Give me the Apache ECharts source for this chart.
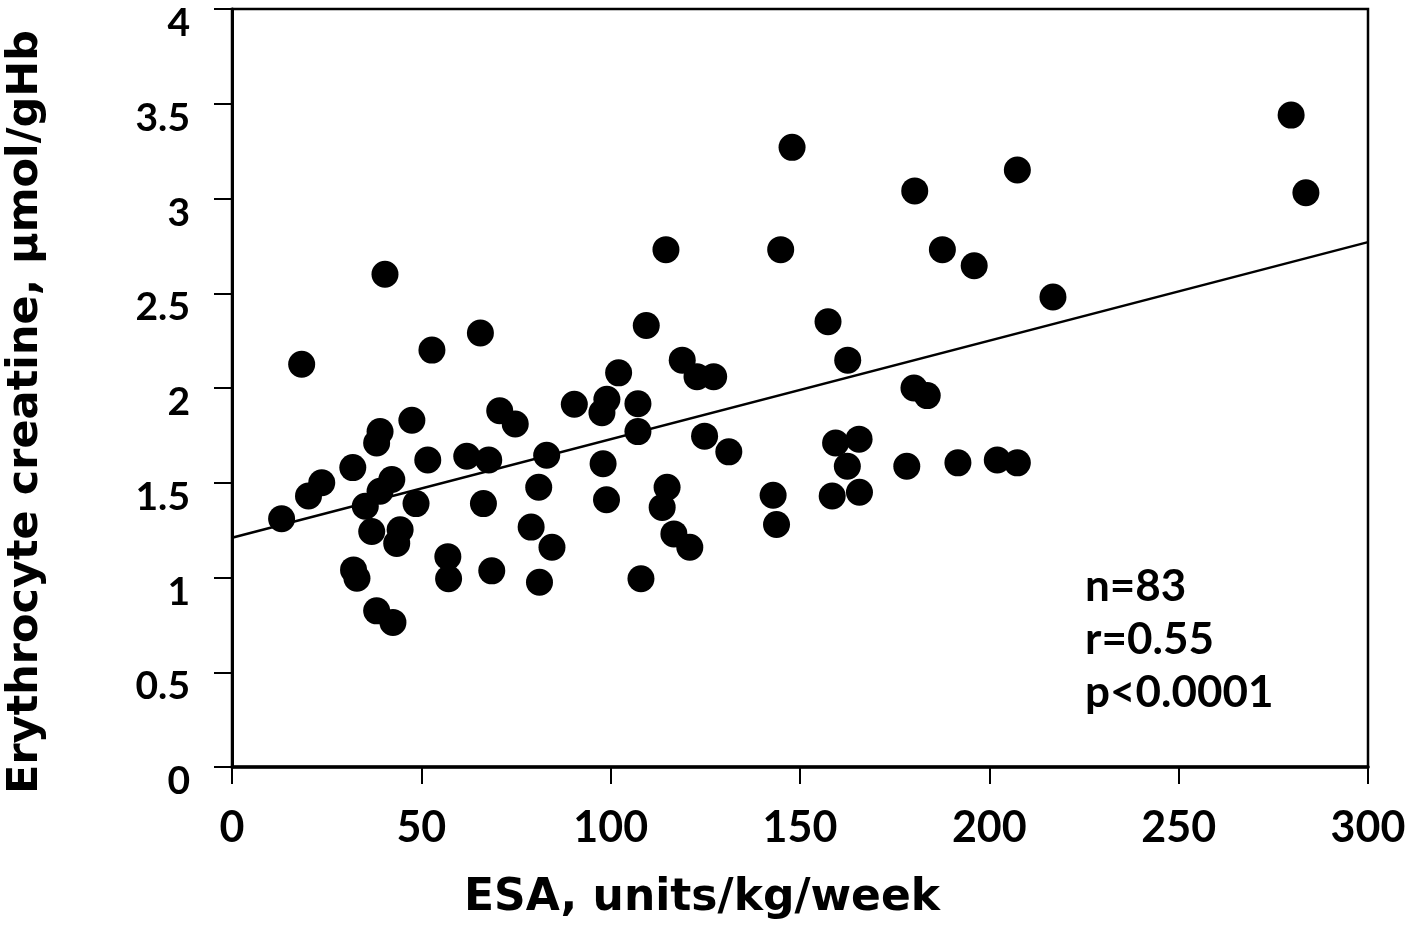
<!DOCTYPE html>
<html>
<head>
<meta charset="utf-8">
<script src="https://cdn.jsdelivr.net/npm/echarts@6/dist/echarts.min.js"></script>
<style>
html,body{margin:0;padding:0;background:#fff;}
#chart{width:1416px;height:934px;}
</style>
</head>
<body>
<div id="chart"></div>
<script>
// ESA dose (units/kg/week)
var esa = [13.1, 18.4, 20.2, 23.7, 31.9, 32.1, 33.0, 35.2, 36.9, 38.2,
           39.1, 39.1, 38.2, 40.4, 42.2, 42.5, 43.5, 44.4, 47.5, 48.6,
           51.7, 52.8, 57.0, 57.2, 62.0, 65.6, 66.4, 67.8, 68.6, 70.7,
           74.8, 79.0, 81.0, 81.2, 83.1, 84.5, 90.4, 97.7, 99.0, 98.0,
           98.9, 102.1, 107.2, 107.2, 108.0, 109.4, 113.6, 114.9, 114.6, 116.7,
           118.9, 120.9, 122.8, 124.8, 127.2, 131.2, 142.9, 143.8, 144.9, 147.9,
           157.4, 158.5, 159.4, 162.5, 162.6, 165.6, 165.7, 178.2, 180.1, 180.3,
           183.6, 187.6, 191.7, 196.0, 202.1, 207.4, 207.4, 216.8, 279.7, 283.6];
// Erythrocyte creatine (µmol/gHb)
var creatine = [1.31, 2.125, 1.43, 1.50, 1.58, 1.04, 0.996, 1.376, 1.243, 1.71,
                1.77, 1.455, 0.824, 2.60, 1.517, 0.763, 1.18, 1.252, 1.83, 1.39,
                1.62, 2.20, 1.11, 0.993, 1.64, 2.29, 1.39, 1.62, 1.035, 1.88,
                1.81, 1.266, 1.476, 0.975, 1.645, 1.16, 1.914, 1.87, 1.94, 1.60,
                1.41, 2.08, 1.917, 1.77, 0.993, 2.33, 1.37, 1.476, 2.73, 1.23,
                2.147, 1.16, 2.06, 1.746, 2.06, 1.663, 1.434, 1.28, 2.73, 3.27,
                2.35, 1.43, 1.71, 1.587, 2.147, 1.73, 1.45, 1.587, 2.00, 3.04,
                1.96, 2.73, 1.605, 2.645, 1.62, 1.605, 3.15, 2.48, 3.44, 3.03];
// Regression line endpoints
var fitX = [0, 300];
var fitY = [1.21, 2.77];
// Axis ticks
var xTicks = [0, 50, 100, 150, 200, 250, 300];
var yTicks = [0, 0.5, 1, 1.5, 2, 2.5, 3, 3.5, 4];
var statsLines = ['n=83', 'r=0.55', 'p<0.0001'];

var FONT = 'Lato';
var TITLE_FONT = 'DejaVu Sans';
var chart = echarts.init(document.getElementById('chart'));
var pts = esa.map(function (x, i) { return [x, creatine[i]]; });
var fit = fitX.map(function (x, i) { return [x, fitY[i]]; });

chart.setOption({
  animation: false,
  backgroundColor: '#fff',
  grid: {
    left: 232, right: 48, top: 9, bottom: 167,
    containLabel: false,
    outerBoundsMode: 'none',
    show: true, borderColor: '#000', borderWidth: 2.5, backgroundColor: 'transparent'
  },
  xAxis: {
    type: 'value',
    min: xTicks[0], max: xTicks[xTicks.length - 1], interval: 50,
    name: 'ESA, units/kg/week',
    nameLocation: 'middle',
    nameGap: 110,
    nameTextStyle: { fontFamily: TITLE_FONT, fontWeight: 'bold', fontSize: 44, color: '#000', padding: [0, 196, 0, 0] },
    axisLine: { show: true, lineStyle: { color: '#000', width: 3.5 } },
    axisTick: { show: true, inside: false, length: 17, lineStyle: { color: '#000', width: 2 } },
    axisLabel: { margin: 40, fontFamily: FONT, fontWeight: 'bold', fontSize: 43, color: '#000', lineHeight: 43 },
    splitLine: { show: false }
  },
  yAxis: {
    type: 'value',
    min: yTicks[0], max: yTicks[yTicks.length - 1], interval: 0.5,
    name: 'Erythrocyte creatine, µmol/gHb',
    nameLocation: 'middle',
    nameGap: 185,
    nameRotate: 90,
    nameTextStyle: { fontFamily: TITLE_FONT, fontWeight: 'bold', fontSize: 43, color: '#000', padding: [0, 48, 0, 0] },
    axisLine: { show: true, lineStyle: { color: '#000', width: 3 } },
    axisTick: { show: true, inside: false, length: 18, lineStyle: { color: '#000', width: 2 } },
    axisLabel: { margin: 42, fontFamily: FONT, fontWeight: 'bold', fontSize: 39, color: '#000', verticalAlign: 'top', lineHeight: 29 },
    splitLine: { show: false }
  },
  series: [
    {
      type: 'line',
      data: fit,
      symbol: 'none',
      lineStyle: { color: '#000', width: 2.5 },
      z: 2
    },
    {
      type: 'scatter',
      data: pts,
      symbol: 'circle',
      symbolSize: 27,
      itemStyle: { color: '#000', opacity: 1 },
      z: 3
    }
  ],
  graphic: [
    {
      type: 'text',
      left: 1085,
      top: 560,
      style: {
        text: statsLines.join('\n'),
        fontFamily: FONT,
        fontWeight: 'bold',
        fontSize: 44,
        lineHeight: 53,
        fill: '#000'
      }
    }
  ]
});
</script>
</body>
</html>
